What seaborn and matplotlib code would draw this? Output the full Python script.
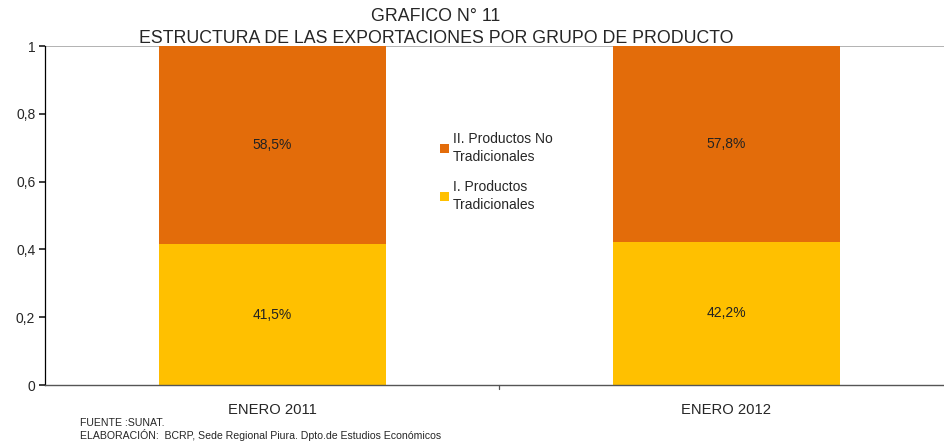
import matplotlib
matplotlib.use("Agg")
import matplotlib.pyplot as plt
import seaborn as sns
import pandas as pd
from matplotlib.patches import Patch

categories = ["ENERO 2011", "ENERO 2012"]
tradicionales = [0.415, 0.422]
no_tradicionales = [0.585, 0.578]
label_trad = ["41,5%", "42,2%"]
label_no_trad = ["58,5%", "57,8%"]
yticks = [0, 0.2, 0.4, 0.6, 0.8, 1]
ytick_labels = ["0", "0,2", "0,4", "0,6", "0,8", "1"]

sns.set_theme(style="white")
plt.rcParams["font.family"] = ["Liberation Sans", "DejaVu Sans"]

c_orange = "#E36C0A"
c_yellow = "#FFC000"

df = pd.DataFrame({
    "cat": categories,
    "trad": tradicionales,
    "total": [a + b for a, b in zip(tradicionales, no_tradicionales)],
})

fig = plt.figure(figsize=(9.44, 4.45), dpi=100)
ax = fig.add_axes([0.0477, 0.1348, 0.962, 0.7618])

sns.barplot(data=df, x="cat", y="total", color=c_orange, saturation=1, width=0.5, ax=ax, linewidth=0, edgecolor="none")
sns.barplot(data=df, x="cat", y="trad", color=c_yellow, saturation=1, width=0.5, ax=ax, linewidth=0, edgecolor="none")

for i in range(len(categories)):
    ax.text(i, tradicionales[i] / 2, label_trad[i], ha="center", va="center", fontsize=10, color="#222222")
    ax.text(i, tradicionales[i] + no_tradicionales[i] / 2, label_no_trad[i], ha="center", va="center", fontsize=10, color="#222222")

ax.set_xlim(-0.5, 1.5)
ax.set_ylim(0, 1)
ax.set_yticks(yticks)
ax.set_yticklabels(ytick_labels, fontsize=10)
ax.set_xticks([0, 1])
ax.set_xticklabels(categories, fontsize=10.6)
ax.tick_params(axis="x", length=0, pad=13)
ax.tick_params(axis="y", length=4, direction="out", left=True, pad=3)
ax.set_xlabel("")
ax.set_ylabel("")
ax.axhline(1, color="#A6A6A6", lw=1.2, zorder=0)
for s in ["top", "right"]:
    ax.spines[s].set_visible(False)
ax.spines["left"].set_color("#000000")
ax.spines["left"].set_linewidth(0.9)
ax.spines["bottom"].set_color("#555555")
ax.spines["bottom"].set_linewidth(1.0)
ax.plot([0.5, 0.5], [0, -0.012], color="#555555", lw=0.9, clip_on=False)

handles = [Patch(facecolor=c_orange, edgecolor="none"), Patch(facecolor=c_yellow, edgecolor="none")]
leg = ax.legend(handles, ["II. Productos No\nTradicionales", "I. Productos\nTradicionales"],
                loc="upper left", bbox_to_anchor=(0.429, 0.762), frameon=False, fontsize=10,
                handlelength=0.6, handleheight=0.6, handletextpad=0.3, labelspacing=1.2,
                borderaxespad=0)
for t in leg.get_texts():
    t.set_linespacing(1.3)

fig.text(0.461, 0.962, "GRAFICO N° 11", ha="center", va="center", fontsize=12.8)
fig.text(0.4625, 0.914, "ESTRUCTURA DE LAS EXPORTACIONES POR GRUPO DE PRODUCTO", ha="center", va="center", fontsize=12.8)
fig.text(0.085, 0.049, "FUENTE :SUNAT.", ha="left", va="center", fontsize=7.6)
fig.text(0.085, 0.022, "ELABORACIÓN:  BCRP, Sede Regional Piura. Dpto.de Estudios Económicos", ha="left", va="center", fontsize=7.6)

fig.savefig("out.png", dpi=100)
